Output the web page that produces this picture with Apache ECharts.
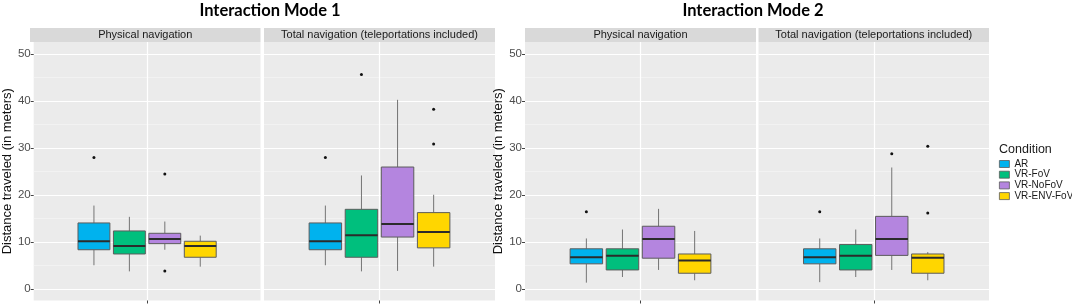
<!DOCTYPE html>
<html>
<head>
<meta charset="utf-8">
<script src="https://cdn.jsdelivr.net/npm/echarts@6/dist/echarts.min.js"></script>
<style>
  html, body { margin: 0; padding: 0; background: #fff; }
  #main { width: 1072px; height: 304px; }
</style>
</head>
<body>
<div id="main"></div>
<script>
// data
var conditions = ['AR', 'VR-FoV', 'VR-NoFoV', 'VR-ENV-FoV'];
var facets = ['Physical navigation', 'Total navigation (teleportations included)'];
var modes = ['Interaction Mode 1', 'Interaction Mode 2'];
var yTicks = [0, 10, 20, 30, 40, 50];

// [lower whisker, Q1, median, Q3, upper whisker], one row per condition
var mode1Physical = [
    [5.0, 8.3, 10.1, 14.0, 17.7],
    [3.7, 7.4, 9.1, 12.3, 15.3],
    [8.3, 9.6, 10.6, 11.8, 14.3],
    [4.7, 6.7, 9.1, 10.1, 11.3]
];
var mode1Total = [
    [5.0, 8.3, 10.1, 14.0, 17.7],
    [3.7, 6.7, 11.4, 16.9, 24.1],
    [3.8, 11.0, 13.8, 25.9, 40.2],
    [4.7, 8.7, 12.1, 16.2, 20.0]
];
var mode2Physical = [
    [1.3, 5.3, 6.7, 8.5, 10.7],
    [2.5, 4.0, 7.0, 8.5, 12.6],
    [4.0, 6.5, 10.6, 13.3, 17.0],
    [1.8, 3.3, 6.0, 7.4, 12.3]
];
var mode2Total = [
    [1.4, 5.3, 6.7, 8.5, 10.7],
    [2.5, 4.0, 7.0, 9.4, 12.6],
    [4.0, 7.1, 10.6, 15.4, 25.8],
    [1.8, 3.3, 6.6, 7.4, 7.8]
];
// outliers per condition
var mode1PhysicalOut = [[27.9], [], [24.4, 3.8], []];
var mode1TotalOut = [[27.9], [45.6], [], [38.2, 30.8]];
var mode2PhysicalOut = [[16.4], [], [], []];
var mode2TotalOut = [[16.4], [], [28.7], [30.3, 16.1]];

var boxes = [mode1Physical, mode1Total, mode2Physical, mode2Total];
var outliers = [mode1PhysicalOut, mode1TotalOut, mode2PhysicalOut, mode2TotalOut];

var colors = ['#00B2EE', '#00BF7D', '#B485DF', '#FFD600'];

// panel layout (pixels)
var panels = [
    {left: 30, width: 230.5},
    {left: 264, width: 231},
    {left: 525, width: 231},
    {left: 758.5, width: 230.5}
];
var TOP = 42, HEIGHT = 258.5, STRIP = 14;
var DODGE = 0.1875, BOXW = 0.16875;

function renderBox(params, api) {
    var x = (api.value(0) - 1.5) * DODGE;
    var lo = api.coord([x, api.value(1)]);
    var q1 = api.coord([x, api.value(2)]);
    var md = api.coord([x, api.value(3)]);
    var q3 = api.coord([x, api.value(4)]);
    var hi = api.coord([x, api.value(5)]);
    var half = api.size([BOXW, 0])[0] / 2;
    return {
        type: 'group',
        children: [
            {type: 'line', shape: {x1: lo[0], y1: lo[1], x2: q1[0], y2: q1[1]}, style: {stroke: '#747474', lineWidth: 1}},
            {type: 'line', shape: {x1: q3[0], y1: q3[1], x2: hi[0], y2: hi[1]}, style: {stroke: '#747474', lineWidth: 1}},
            {type: 'rect', shape: {x: md[0] - half, y: q3[1], width: half * 2, height: q1[1] - q3[1]},
                style: {fill: api.visual('color'), stroke: '#5c5c5c', lineWidth: 1}},
            {type: 'line', shape: {x1: md[0] - half, y1: md[1], x2: md[0] + half, y2: md[1]}, style: {stroke: '#2b2b2b', lineWidth: 2}}
        ]
    };
}

function renderOutlier(params, api) {
    var p = api.coord([(api.value(0) - 1.5) * DODGE, api.value(1)]);
    return {type: 'circle', shape: {cx: p[0], cy: p[1], r: 1.5}, style: {fill: '#111'}};
}

var grids = [], xAxes = [], yAxes = [], series = [], graphics = [];

panels.forEach(function (pn, p) {
    grids.push({
        left: pn.left, top: TOP, width: pn.width, height: HEIGHT,
        show: true, backgroundColor: '#EBEBEB', borderWidth: 0
    });
    xAxes.push({
        type: 'value', gridIndex: p, min: -0.6, max: 0.6, interval: 0.6,
        axisLine: {show: false, onZero: false},
        axisLabel: {show: false},
        axisTick: {show: true, customValues: [0], length: 3, lineStyle: {color: '#444'}},
        splitLine: {show: true, lineStyle: {color: '#fff', width: 1.2}}
    });
    var showLab = (p % 2 === 0);
    yAxes.push({
        type: 'value', gridIndex: p, min: -2.5, max: 52.5,
        name: showLab ? 'Distance traveled (in meters)' : '',
        nameLocation: 'middle', nameGap: 16, nameRotate: 90,
        nameTextStyle: {fontFamily: 'Liberation Sans', fontSize: 13, color: '#111'},
        axisLine: {show: false, onZero: false},
        axisTick: {show: showLab, customValues: yTicks, length: 3, lineStyle: {color: '#444'}},
        axisLabel: {show: showLab, customValues: yTicks, margin: 3, color: '#4d4d4d',
            fontFamily: 'Liberation Sans', fontSize: 11.5},
        splitLine: {show: true, lineStyle: {color: '#fff', width: 1.2}},
        minorTick: {show: false, splitNumber: 2},
        minorSplitLine: {show: true, lineStyle: {color: '#F6F6F6', width: 0.6}}
    });

    conditions.forEach(function (c, i) {
        series.push({
            type: 'custom', name: c, xAxisIndex: p, yAxisIndex: p,
            color: colors[i],
            renderItem: renderBox,
            encode: {x: 0, y: [1, 2, 3, 4, 5]},
            data: [[i].concat(boxes[p][i])]
        });
    });
    var pts = [];
    outliers[p].forEach(function (vals, i) {
        vals.forEach(function (v) { pts.push([i, v]); });
    });
    series.push({
        type: 'custom', xAxisIndex: p, yAxisIndex: p,
        renderItem: renderOutlier,
        encode: {x: 0, y: 1},
        data: pts
    });

    // facet strip
    graphics.push({
        type: 'rect', left: pn.left, top: TOP - STRIP,
        shape: {width: pn.width, height: STRIP},
        style: {fill: '#D9D9D9'}, silent: true
    });
    graphics.push({
        type: 'text', x: pn.left + pn.width / 2, y: TOP - STRIP / 2,
        style: {text: facets[p % 2], fill: '#1a1a1a', font: '11px "Liberation Sans"',
            textAlign: 'center', textVerticalAlign: 'middle'}, silent: true
    });
});

var option = {
    animation: false,
    backgroundColor: '#fff',
    title: [
        {text: modes[0], left: 265, top: -3, textAlign: 'center',
            textStyle: {fontFamily: 'Lato', fontWeight: 'bold', fontSize: 16.5, color: '#000'}},
        {text: modes[1], left: 748, top: -3, textAlign: 'center',
            textStyle: {fontFamily: 'Lato', fontWeight: 'bold', fontSize: 16.5, color: '#000'}},
        {text: 'Condition', left: 999, top: 143, padding: 0,
            textStyle: {fontFamily: 'Liberation Sans', fontWeight: 'normal', fontSize: 12.5, color: '#1a1a1a'}}
    ],
    legend: {
        data: conditions,
        orient: 'vertical',
        left: 999, top: 159,
        itemWidth: 10, itemHeight: 7, itemGap: 0.7,
        icon: 'rect',
        padding: 0,
        itemStyle: {borderColor: '#5c5c5c', borderWidth: 0.8},
        textStyle: {fontFamily: 'Liberation Sans', fontSize: 10, color: '#1a1a1a', lineHeight: 10},
        selectedMode: false
    },
    grid: grids,
    xAxis: xAxes,
    yAxis: yAxes,
    series: series,
    graphic: graphics
};

var chart = echarts.init(document.getElementById('main'));
chart.setOption(option);
</script>
</body>
</html>
